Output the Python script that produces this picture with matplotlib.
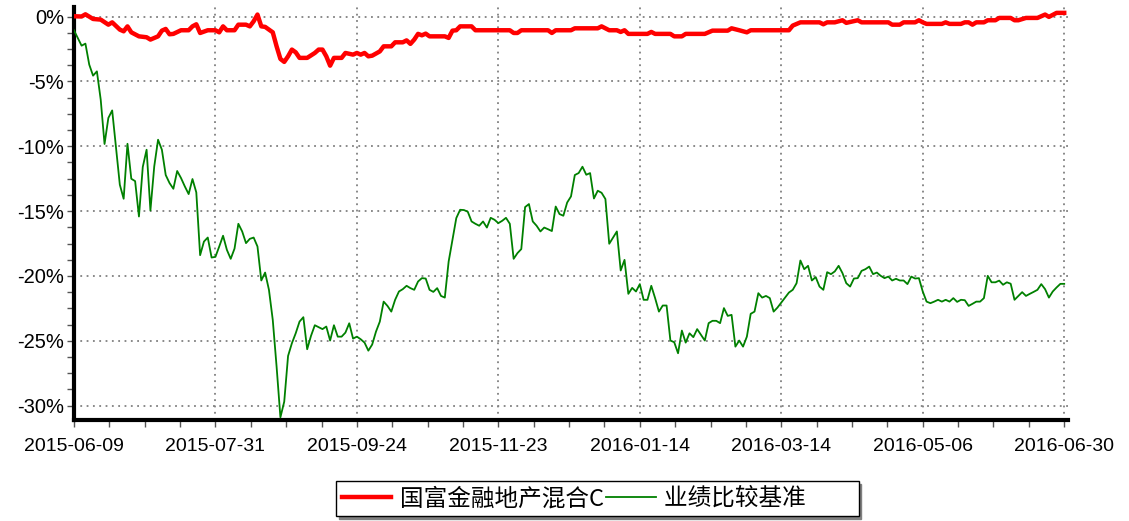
import matplotlib.pyplot as plt
from matplotlib.ticker import MultipleLocator, FuncFormatter

plt.rcParams['font.family'] = ['Liberation Sans Narrow', 'Liberation Sans', 'Noto Sans CJK SC', 'DejaVu Sans']

# trading-day index of each tick label
tick_days = [0, 37, 74, 111, 148, 185, 222, 259]
tick_labels = ['2015-06-09', '2015-07-31', '2015-09-24', '2015-11-23',
               '2016-01-14', '2016-03-14', '2016-05-06', '2016-06-30']

# 国富金融地产混合C (cumulative return, %)
fund_day = [0, 2, 3, 5, 7, 9, 10, 12, 13, 14, 15, 17, 19, 20, 22, 23, 24, 25, 26, 28,
            30, 31, 32, 33, 35, 37, 38, 39, 40, 42, 43, 45, 46, 47, 48, 49, 50, 52, 53, 54,
            55, 56, 57, 58, 59, 61, 63, 64, 65, 66, 67, 68, 70, 71, 73, 74, 75, 76, 77, 78,
            80, 81, 83, 84, 86, 87, 88, 89, 90, 91, 92, 93, 96, 97, 98, 99, 100, 101, 104, 105,
            108, 114, 115, 116, 117, 124, 125, 126, 130, 131, 137, 138, 140, 142, 143, 144, 145, 148, 150, 151,
            152, 156, 157, 159, 160, 165, 167, 171, 172, 174, 176, 177, 187, 188, 190, 195, 196, 197, 199, 201,
            202, 205, 206, 213, 214, 216, 217, 220, 221, 222, 223, 227, 228, 229, 232, 233, 234, 235, 236, 238,
            239, 241, 242, 245, 246, 247, 249, 252, 254, 255, 257, 259]
fund_ret = [0.02, 0.0, 0.17, -0.19, -0.24, -0.63, -0.45, -1.01, -1.14, -0.76, -1.22, -1.53, -1.6, -1.78, -1.53, -1.09, -0.96, -1.37, -1.34, -1.06,
            -1.06, -0.76, -0.6, -1.27, -1.06, -1.06, -1.22, -0.76, -1.06, -1.06, -0.63, -0.63, -0.76, -0.37, 0.15, -0.76, -0.8, -1.22, -2.3, -3.27,
            -3.5, -3.07, -2.55, -2.76, -3.19, -3.19, -2.81, -2.55, -2.55, -3.07, -3.79, -3.19, -3.19, -2.81, -2.94, -2.81, -2.94, -2.81, -3.07, -3.02,
            -2.69, -2.3, -2.3, -1.99, -1.99, -1.84, -2.11, -1.78, -1.34, -1.45, -1.32, -1.53, -1.53, -1.53, -1.65, -1.09, -1.06, -0.76, -0.76, -1.06,
            -1.06, -1.06, -1.27, -1.27, -1.06, -1.06, -1.27, -1.06, -1.06, -0.91, -0.91, -0.76, -1.06, -1.06, -1.19, -1.06, -1.34, -1.34, -1.34, -1.19,
            -1.34, -1.34, -1.53, -1.53, -1.34, -1.34, -1.09, -1.09, -0.91, -1.06, -1.22, -1.06, -1.06, -0.7, -0.45, -0.45, -0.6, -0.45, -0.45, -0.29,
            -0.49, -0.29, -0.45, -0.45, -0.63, -0.63, -0.45, -0.45, -0.29, -0.45, -0.57, -0.57, -0.45, -0.57, -0.57, -0.45, -0.45, -0.63, -0.45, -0.45,
            -0.29, -0.29, -0.11, -0.11, -0.29, -0.29, -0.11, -0.11, 0.15, -0.03, 0.28, 0.28]

# 业绩比较基准 (cumulative return, %)
bench_day = [0, 2, 3, 4, 5, 6, 7, 8, 9, 10, 12, 13, 14, 15, 16, 17, 18, 19, 20, 21,
             22, 23, 24, 25, 26, 27, 28, 29, 30, 31, 32, 33, 34, 35, 36, 37, 38, 39, 40, 41,
             42, 43, 44, 45, 46, 47, 48, 49, 50, 51, 52, 53, 54, 55, 56, 57, 58, 59, 60, 61,
             62, 63, 64, 65, 66, 67, 68, 69, 70, 71, 72, 73, 74, 75, 76, 77, 78, 79, 80, 81,
             82, 83, 84, 85, 86, 87, 88, 89, 90, 91, 92, 93, 94, 95, 96, 97, 98, 99, 100, 101,
             102, 103, 104, 105, 106, 107, 108, 109, 110, 111, 112, 113, 114, 115, 116, 117, 118, 119, 120, 121,
             122, 123, 124, 125, 126, 127, 128, 129, 130, 131, 132, 133, 134, 135, 136, 137, 138, 139, 140, 142,
             143, 144, 145, 146, 147, 148, 149, 150, 151, 152, 153, 154, 155, 156, 157, 158, 159, 160, 161, 162,
             163, 164, 165, 166, 167, 168, 169, 170, 171, 172, 173, 174, 175, 176, 177, 178, 179, 180, 181, 182,
             183, 184, 185, 187, 188, 189, 190, 191, 192, 193, 194, 195, 196, 197, 198, 199, 200, 201, 202, 203,
             204, 205, 206, 207, 208, 209, 210, 211, 212, 213, 214, 215, 216, 217, 218, 219, 220, 221, 222, 223,
             224, 225, 226, 227, 228, 229, 230, 231, 232, 233, 234, 235, 236, 237, 238, 239, 240, 241, 242, 243,
             244, 245, 246, 247, 248, 249, 250, 251, 252, 253, 254, 255, 256, 257, 258, 259]
bench_ret = [-1.06, -2.25, -2.09, -3.71, -4.56, -4.23, -6.41, -9.83, -7.82, -7.24, -12.97, -14.05, -9.81, -12.51, -12.69, -15.42, -11.6, -10.27, -14.95, -11.56,
             -9.5, -10.27, -12.22, -12.84, -13.28, -11.91, -12.45, -13.1, -13.69, -12.53, -13.56, -18.4, -17.35, -17.04, -18.58, -18.53, -17.73, -16.9, -17.99, -18.68,
             -17.89, -15.98, -16.57, -17.47, -17.14, -17.04, -17.73, -20.35, -19.74, -21.07, -23.39, -26.99, -30.9, -29.69, -26.17, -25.19, -24.42, -23.52, -23.18, -25.65,
             -24.62, -23.8, -23.95, -24.1, -23.9, -24.98, -23.8, -24.68, -24.68, -24.37, -23.65, -24.83, -24.68, -24.88, -25.14, -25.76, -25.29, -24.29, -23.52, -21.98,
             -22.31, -22.75, -21.84, -21.2, -21.02, -20.76, -20.94, -21.07, -20.43, -20.17, -20.2, -21.07, -21.23, -20.94, -21.54, -21.67, -18.89, -17.21, -15.54, -14.9,
             -14.92, -15.05, -15.8, -15.98, -16.13, -15.8, -16.27, -15.52, -15.67, -15.93, -15.75, -15.52, -15.98, -18.68, -18.24, -17.93, -14.69, -14.46, -15.8, -16.13,
             -16.57, -16.27, -16.4, -16.54, -14.65, -15.23, -15.36, -14.34, -13.87, -12.22, -12.07, -11.58, -12.2, -12.07, -14.03, -13.43, -13.59, -14.07, -17.52, -16.57,
             -19.58, -18.76, -21.38, -20.92, -21.2, -20.63, -21.84, -21.84, -20.76, -21.71, -22.75, -22.28, -22.28, -24.98, -25.11, -25.96, -24.21, -25.14, -24.42, -24.72,
             -24.1, -24.54, -24.98, -23.64, -23.46, -23.46, -23.64, -22.48, -23.08, -23.0, -25.45, -24.98, -25.45, -24.68, -22.92, -22.75, -21.33, -21.67, -21.54, -21.71,
             -22.75, -22.44, -22.05, -21.28, -21.07, -20.56, -18.81, -19.48, -19.22, -20.35, -20.09, -20.82, -21.07, -19.71, -19.86, -19.65, -19.22, -19.78, -20.56, -20.82,
             -20.2, -20.17, -19.61, -19.48, -19.28, -19.86, -19.74, -19.99, -20.17, -20.05, -20.35, -20.22, -20.35, -20.35, -20.63, -20.05, -20.2, -20.17, -21.2, -21.98,
             -22.1, -21.98, -21.84, -21.98, -21.84, -21.98, -21.71, -22.0, -21.84, -21.87, -22.31, -22.15, -21.98, -21.98, -21.71, -19.99, -20.49, -20.49, -20.36, -20.68,
             -20.49, -20.6, -21.84, -21.54, -21.25, -21.54, -21.38, -21.23, -21.07, -20.63, -21.02, -21.67, -21.2, -20.89, -20.61, -20.61]

fig = plt.figure(figsize=(11.29, 5.21), dpi=100)
ax = fig.add_axes([0.0655, 0.194, 0.8805, 0.793])

ax.plot(bench_day, bench_ret, color='#008000', lw=1.3, label='业绩比较基准\u3000\u3000', zorder=3)
ax.plot(fund_day, fund_ret, color='#ff0000', lw=3.2, label='国富金融地产混合C', zorder=4)

ax.set_xlim(0, 260)
ax.set_ylim(-31.1, 0.75)
ax.set_xticks(tick_days)
ax.set_xticklabels(tick_labels)
ax.xaxis.set_minor_locator(MultipleLocator(37 / 4))
ax.yaxis.set_major_locator(MultipleLocator(5))
ax.yaxis.set_minor_locator(MultipleLocator(1.25))
ax.yaxis.set_major_formatter(FuncFormatter(lambda v, p: '%d%%' % round(v)))

ax.grid(True, which='major', color='#808080', linestyle=(0, (1, 2.5)), lw=1.3)
for s in ['top', 'right']:
    ax.spines[s].set_visible(False)
for s in ['left', 'bottom']:
    ax.spines[s].set_linewidth(3)
ax.tick_params(axis='both', which='both', direction='out', length=5, width=1, color='#555555')
ax.tick_params(axis='x', which='major', labelsize=14, pad=8)
ax.tick_params(axis='y', which='major', labelsize=14.5, pad=2)

h, l = ax.get_legend_handles_labels()
leg = fig.legend(h[::-1], l[::-1], loc='center', bbox_to_anchor=(0.529, 0.043), ncol=2,
                 frameon=True, fancybox=False, shadow={'color': '#808080', 'alpha': 1},
                 edgecolor='black', handlelength=2.1, handletextpad=0.35,
                 columnspacing=0.1, borderpad=0.25,
                 prop={'family': ['Noto Sans CJK SC', 'DejaVu Sans'], 'size': 17})
leg.get_frame().set_linewidth(1.0)

plt.savefig('out.png', dpi=100)
